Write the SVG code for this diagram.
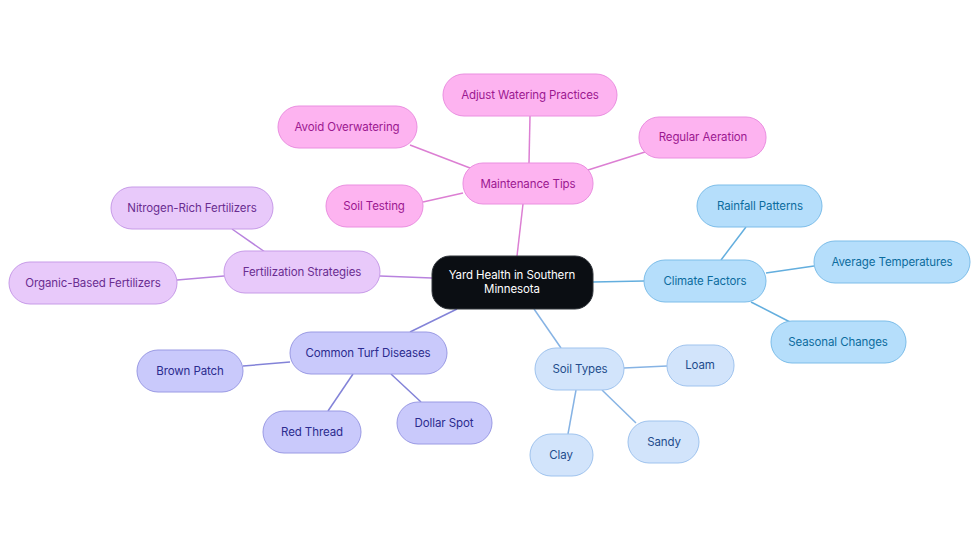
<svg xmlns="http://www.w3.org/2000/svg" width="980" height="553" viewBox="0 0 980 553">
<style>
text{font-family:Inter,"Noto Sans",sans-serif;font-size:11.5px;letter-spacing:-0.1px;text-anchor:middle;dominant-baseline:central}
.pk rect{fill:#fdb3f0;stroke:#ea8fe0}.pk text{fill:#9c1890}
.pu rect{fill:#e8c9fa;stroke:#c79be8}.pu text{fill:#6a2d91}
.in rect{fill:#c9c9fb;stroke:#9a9ae4}.in text{fill:#2b2b8e}
.st rect{fill:#d2e4fb;stroke:#9fc3ee}.st text{fill:#234c8c}
.cf rect{fill:#b5defb;stroke:#7cbde9}.cf text{fill:#0c6c9e}
#edges line{stroke-width:1.5;fill:none}
</style>
<rect width="980" height="553" fill="#fff"/>
<g id="edges">
<g stroke="#dc7fd3"><line x1="517" y1="256" x2="523" y2="204"/><line x1="529" y1="163" x2="530" y2="116"/><line x1="470" y1="168" x2="410" y2="145"/><line x1="588" y1="170" x2="645" y2="152"/><line x1="463" y1="193" x2="423" y2="202"/></g>
<g stroke="#b882de"><line x1="432" y1="278" x2="380" y2="276"/><line x1="265" y1="252" x2="232" y2="229"/><line x1="224" y1="276" x2="177" y2="280"/></g>
<g stroke="#8383d8"><line x1="457" y1="309" x2="410" y2="332"/><line x1="290" y1="362" x2="243" y2="366"/><line x1="353" y1="374" x2="328" y2="411"/><line x1="391" y1="374" x2="421" y2="402"/></g>
<g stroke="#86b3e4"><line x1="534" y1="309" x2="561" y2="348"/><line x1="624" y1="368" x2="667" y2="366"/><line x1="602" y1="390" x2="636" y2="423"/><line x1="576" y1="390" x2="568" y2="434"/></g>
<g stroke="#63aede"><line x1="593" y1="282" x2="644" y2="281"/><line x1="721" y1="260" x2="746" y2="227"/><line x1="766" y1="273" x2="814" y2="266"/><line x1="751" y1="302" x2="790" y2="322"/></g>
</g>
<g id="center"><rect x="432" y="256" width="161" height="53" rx="18" fill="#0b0e13" stroke="#30343a"/><text x="512" y="275" fill="#fff">Yard Health in Southern</text><text x="512" y="289" fill="#fff">Minnesota</text></g>
<g id="maint" class="pk"><rect x="463" y="163" width="130" height="41" rx="20"/><text x="528" y="184">Maintenance Tips</text></g>
<g id="adjust" class="pk"><rect x="443" y="74" width="174" height="42" rx="21"/><text x="530" y="95">Adjust Watering Practices</text></g>
<g id="avoid" class="pk"><rect x="278" y="106" width="139" height="42" rx="21"/><text x="347" y="127">Avoid Overwatering</text></g>
<g id="aeration" class="pk"><rect x="639" y="117" width="127" height="41" rx="20"/><text x="703" y="137">Regular Aeration</text></g>
<g id="soiltest" class="pk"><rect x="326" y="185" width="97" height="42" rx="21"/><text x="374" y="206">Soil Testing</text></g>
<g id="fert" class="pu"><rect x="224" y="251" width="156" height="42" rx="21"/><text x="302" y="272">Fertilization Strategies</text></g>
<g id="nitro" class="pu"><rect x="111" y="187" width="162" height="42" rx="21"/><text x="192" y="208">Nitrogen-Rich Fertilizers</text></g>
<g id="organic" class="pu"><rect x="9" y="262" width="168" height="42" rx="21"/><text x="93" y="283">Organic-Based Fertilizers</text></g>
<g id="turf" class="in"><rect x="290" y="332" width="157" height="42" rx="21"/><text x="368" y="353">Common Turf Diseases</text></g>
<g id="brown" class="in"><rect x="137" y="350" width="106" height="42" rx="21"/><text x="190" y="371">Brown Patch</text></g>
<g id="red" class="in"><rect x="263" y="411" width="98" height="42" rx="21"/><text x="312" y="432">Red Thread</text></g>
<g id="dollar" class="in"><rect x="397" y="402" width="95" height="42" rx="21"/><text x="444" y="423">Dollar Spot</text></g>
<g id="soil" class="st"><rect x="535" y="348" width="89" height="42" rx="21"/><text x="580" y="369">Soil Types</text></g>
<g id="loam" class="st"><rect x="667" y="345" width="67" height="41" rx="20"/><text x="700" y="365">Loam</text></g>
<g id="sandy" class="st"><rect x="628" y="421" width="71" height="42" rx="21"/><text x="664" y="442">Sandy</text></g>
<g id="clay" class="st"><rect x="530" y="434" width="63" height="42" rx="21"/><text x="561" y="455">Clay</text></g>
<g id="climate" class="cf"><rect x="644" y="260" width="122" height="42" rx="21"/><text x="705" y="281">Climate Factors</text></g>
<g id="rain" class="cf"><rect x="697" y="185" width="125" height="42" rx="21"/><text x="760" y="206">Rainfall Patterns</text></g>
<g id="temp" class="cf"><rect x="814" y="241" width="156" height="42" rx="21"/><text x="892" y="262">Average Temperatures</text></g>
<g id="season" class="cf"><rect x="771" y="321" width="135" height="42" rx="21"/><text x="838" y="342">Seasonal Changes</text></g>
</svg>
